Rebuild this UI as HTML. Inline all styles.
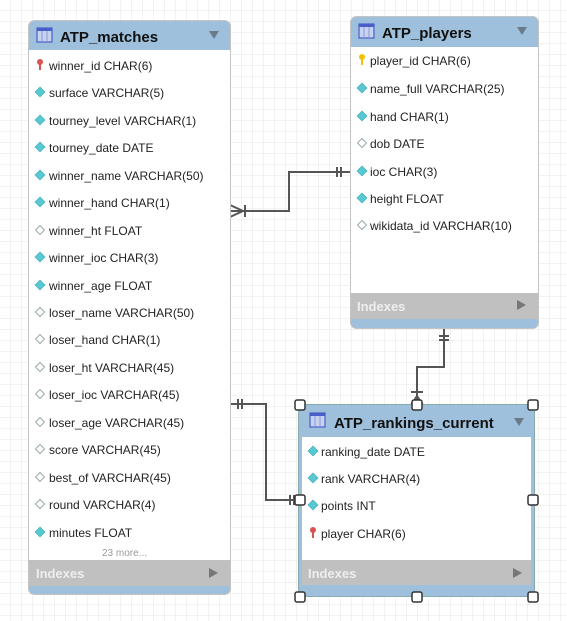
<!DOCTYPE html>
<html><head><meta charset="utf-8"><style>
html,body{margin:0;padding:0;background:#fff;}
svg{display:block;}
text{font-family:"Liberation Sans",sans-serif;}
.t{font-size:12px;fill:#222;}
.h{font-size:15px;font-weight:bold;fill:#111;}
.ix{font-size:13px;font-weight:bold;fill:#eee;}
</style></head><body>
<svg width="567" height="621" viewBox="0 0 567 621" xmlns="http://www.w3.org/2000/svg">
<defs>
<pattern id="g" width="11" height="11" patternUnits="userSpaceOnUse">
<path d="M11 0V11M0 11H11" stroke="#e4e4e4" stroke-width="1" fill="none"/>
</pattern>
<g id="df"><polygon points="0,-5 5,0 0,5 -5,0" fill="#58c9d2" stroke="#3aa7b3" stroke-width="0.6"/></g>
<g id="dh"><polygon points="0,-4.5 4.5,0 0,4.5 -4.5,0" fill="#fff" stroke="#9aa" stroke-width="1"/></g>
<g id="kr"><circle cx="0" cy="-2" r="3" fill="#d9534f"/><rect x="-1" y="0" width="2" height="6" fill="#d9534f"/></g>
<g id="ky"><circle cx="0" cy="-2" r="3" fill="#f2c200"/><rect x="-1" y="0" width="2" height="6" fill="#f2c200"/></g>
<g id="ic"><rect x="0" y="0" width="15" height="14" fill="#c7d2ee" stroke="#4a5ec8" stroke-width="1.2"/><rect x="0" y="0" width="15" height="3" fill="#4a5ec8"/><path d="M5 3V14M10 3V14" stroke="#8899dd" stroke-width="1"/></g>
</defs>
<rect width="567" height="621" fill="url(#g)"/>

<g stroke="#555" stroke-width="2" fill="none">
<path d="M230 211H289V172H350"/>
<path d="M230 205L243 211L230 217M245 205V217"/>
<path d="M337 167V177M341 167V177"/>
<path d="M444 328V367H417V405"/>
<path d="M439 336H449M439 340H449"/>
<path d="M411 392H423"/>
<path d="M411 405L417 396L423 405"/>
<path d="M230 404H266V500H300"/>
<path d="M238 399V409M242 399V409"/>
<path d="M290 495V505M294 495V505"/>
</g>

<rect x="28.5" y="20.5" width="202" height="574" rx="6" fill="#9ec0dc" stroke="#c4c4c4"/>
<rect x="29" y="50" width="201" height="510" fill="#fff"/>
<rect x="29" y="560" width="201" height="26" fill="#c0c0c0"/>
<use href="#ic" x="37" y="28"/>
<text class="h" x="60" y="42">ATP_matches</text>
<polygon points="209,31 219,31 214,39" fill="#6a7a88"/>
<use href="#kr" x="40" y="64"/><text class="t" x="49" y="70">winner_id CHAR(6)</text>
<use href="#df" x="40" y="92"/><text class="t" x="49" y="97">surface VARCHAR(5)</text>
<use href="#df" x="40" y="120"/><text class="t" x="49" y="125">tourney_level VARCHAR(1)</text>
<use href="#df" x="40" y="147"/><text class="t" x="49" y="152">tourney_date DATE</text>
<use href="#df" x="40" y="175"/><text class="t" x="49" y="180">winner_name VARCHAR(50)</text>
<use href="#df" x="40" y="202"/><text class="t" x="49" y="207">winner_hand CHAR(1)</text>
<use href="#dh" x="40" y="230"/><text class="t" x="49" y="235">winner_ht FLOAT</text>
<use href="#df" x="40" y="257"/><text class="t" x="49" y="262">winner_ioc CHAR(3)</text>
<use href="#df" x="40" y="285"/><text class="t" x="49" y="290">winner_age FLOAT</text>
<use href="#dh" x="40" y="312"/><text class="t" x="49" y="317">loser_name VARCHAR(50)</text>
<use href="#dh" x="40" y="339"/><text class="t" x="49" y="344">loser_hand CHAR(1)</text>
<use href="#dh" x="40" y="367"/><text class="t" x="49" y="372">loser_ht VARCHAR(45)</text>
<use href="#dh" x="40" y="394"/><text class="t" x="49" y="399">loser_ioc VARCHAR(45)</text>
<use href="#dh" x="40" y="422"/><text class="t" x="49" y="427">loser_age VARCHAR(45)</text>
<use href="#dh" x="40" y="449"/><text class="t" x="49" y="454">score VARCHAR(45)</text>
<use href="#dh" x="40" y="477"/><text class="t" x="49" y="482">best_of VARCHAR(45)</text>
<use href="#dh" x="40" y="504"/><text class="t" x="49" y="509">round VARCHAR(4)</text>
<use href="#df" x="40" y="532"/><text class="t" x="49" y="537">minutes FLOAT</text>
<text x="102" y="556" style="font-size:10px;fill:#999">23 more...</text>
<text class="ix" x="36" y="578">Indexes</text>
<polygon points="209,568 218,573 209,578" fill="#777"/>

<rect x="350.5" y="16.5" width="188" height="312" rx="6" fill="#9ec0dc" stroke="#c4c4c4"/>
<rect x="351" y="47" width="187" height="246" fill="#fff"/>
<rect x="351" y="293" width="187" height="26" fill="#c0c0c0"/>
<use href="#ic" x="359" y="24"/>
<text class="h" x="382" y="38">ATP_players</text>
<polygon points="517,27 527,27 522,35" fill="#6a7a88"/>
<use href="#ky" x="362" y="59"/><text class="t" x="370" y="65">player_id CHAR(6)</text>
<use href="#df" x="362" y="88"/><text class="t" x="370" y="93">name_full VARCHAR(25)</text>
<use href="#df" x="362" y="116"/><text class="t" x="370" y="121">hand CHAR(1)</text>
<use href="#dh" x="362" y="143"/><text class="t" x="370" y="148">dob DATE</text>
<use href="#df" x="362" y="171"/><text class="t" x="370" y="176">ioc CHAR(3)</text>
<use href="#df" x="362" y="198"/><text class="t" x="370" y="203">height FLOAT</text>
<use href="#dh" x="362" y="225"/><text class="t" x="370" y="230">wikidata_id VARCHAR(10)</text>
<text class="ix" x="357" y="311">Indexes</text>
<polygon points="517,300 526,305 517,310" fill="#777"/>

<rect x="298.5" y="404.5" width="236" height="192" fill="#9ec0dc" stroke="#8aa"/>
<rect x="302" y="437" width="229" height="123" fill="#fff"/>
<rect x="302" y="560" width="229" height="25" fill="#c0c0c0"/>
<use href="#ic" x="310" y="413"/>
<text class="h" x="334" y="428">ATP_rankings_current</text>
<polygon points="514,418 524,418 519,426" fill="#6a7a88"/>
<use href="#df" x="313" y="451"/><text class="t" x="321" y="456">ranking_date DATE</text>
<use href="#df" x="313" y="478"/><text class="t" x="321" y="483">rank VARCHAR(4)</text>
<use href="#df" x="313" y="505"/><text class="t" x="321" y="510">points INT</text>
<use href="#kr" x="313" y="532"/><text class="t" x="321" y="538">player CHAR(6)</text>
<text class="ix" x="308" y="578">Indexes</text>
<polygon points="513,568 522,573 513,578" fill="#777"/>
<g fill="#fff" stroke="#333" stroke-width="1.5">
<rect x="295" y="400" width="10" height="10" rx="2"/>
<rect x="412" y="400" width="10" height="10" rx="2"/>
<rect x="528" y="400" width="10" height="10" rx="2"/>
<rect x="295" y="495" width="10" height="10" rx="2"/>
<rect x="528" y="495" width="10" height="10" rx="2"/>
<rect x="295" y="592" width="10" height="10" rx="2"/>
<rect x="412" y="592" width="10" height="10" rx="2"/>
<rect x="528" y="592" width="10" height="10" rx="2"/>
</g>
</svg>
</body></html>
